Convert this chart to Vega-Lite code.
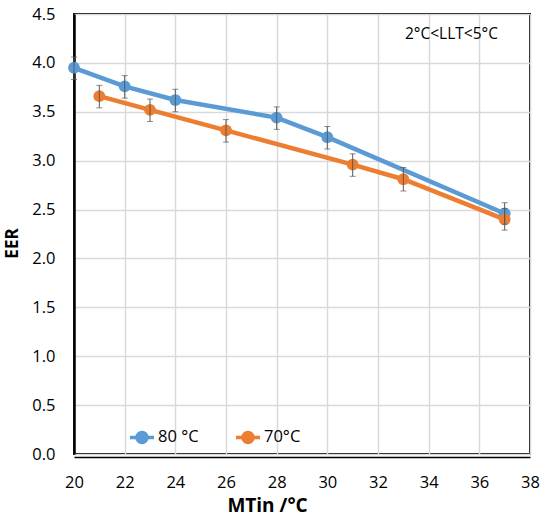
{
  "$schema": "https://vega.github.io/schema/vega-lite/v6.json",
  "autosize": "none",
  "width": 456,
  "height": 440,
  "padding": {"left": 74, "top": 14, "right": 17, "bottom": 67},
  "background": "white",
  "config": {
    "view": {"stroke": "black", "strokeWidth": 2},
    "font": "Open Sans",
    "axis": {"gridColor": "#d9d9d9", "gridWidth": 1.5, "ticks": false, "labelFontSize": 16.5, "labelColor": "black", "labelFont": "Open Sans", "titleFont": "Open Sans", "titleColor": "black"}
  },
  "datasets": {
    "pts": [
      {"series": "80 °C", "x": 20, "y": 3.95, "lo": 3.83, "hi": 4.06},
      {"series": "80 °C", "x": 22, "y": 3.76, "lo": 3.64, "hi": 3.87},
      {"series": "80 °C", "x": 24, "y": 3.62, "lo": 3.50, "hi": 3.73},
      {"series": "80 °C", "x": 28, "y": 3.44, "lo": 3.32, "hi": 3.55},
      {"series": "80 °C", "x": 30, "y": 3.24, "lo": 3.12, "hi": 3.35},
      {"series": "80 °C", "x": 37, "y": 2.46, "lo": 2.35, "hi": 2.57},
      {"series": "70°C", "x": 21, "y": 3.66, "lo": 3.54, "hi": 3.77},
      {"series": "70°C", "x": 23, "y": 3.52, "lo": 3.40, "hi": 3.63},
      {"series": "70°C", "x": 26, "y": 3.31, "lo": 3.19, "hi": 3.42},
      {"series": "70°C", "x": 31, "y": 2.96, "lo": 2.84, "hi": 3.07},
      {"series": "70°C", "x": 33, "y": 2.81, "lo": 2.69, "hi": 2.93},
      {"series": "70°C", "x": 37, "y": 2.40, "lo": 2.29, "hi": 2.51}
    ],
    "note": [{"x": 34.9, "y": 4.3, "label": "2°C<LLT<5°C"}]
  },
  "layer": [
    {
      "data": {"name": "pts"},
      "mark": {"type": "line", "strokeWidth": 4.5, "point": {"filled": true, "size": 140, "opacity": 1}},
      "encoding": {
        "x": {"field": "x", "type": "quantitative", "scale": {"domain": [20, 38], "nice": false, "zero": false},
          "axis": {"values": [20,22,24,26,28,30,32,34,36,38], "labelFlush": false, "title": "MTin /°C", "titleFontSize": 19, "titleFontWeight": "bold", "labelPadding": 17, "titlePadding": 6, "titleX": 193, "titleAlign": "center", "titleAnchor": null, "domainColor": "black", "domainWidth": 1.5, "offset": 3}},
        "y": {"field": "y", "type": "quantitative", "scale": {"domain": [0, 4.5], "nice": false},
          "axis": {"values": [0,0.5,1,1.5,2,2.5,3,3.5,4,4.5], "format": ".1f", "title": "EER", "titleFontSize": 17, "titleFontWeight": "bold", "labelPadding": 19, "titleX": -53, "titleY": 229, "titleAngle": -90, "titleAlign": "center", "titleBaseline": "bottom", "domainColor": "black", "domainWidth": 2.5}},
        "color": {"field": "series", "type": "nominal",
          "scale": {"domain": ["80 °C", "70°C"], "range": ["#5B9BD5", "#ED7D31"]},
          "legend": {"title": null, "orient": "none", "legendX": 54, "legendY": 409, "direction": "horizontal",
            "symbolType": "M-1,0L1,0M-0.42,0A0.42,0.42,0,1,1,0.42,0A0.42,0.42,0,1,1,-0.42,0Z",
            "symbolSize": 576, "symbolStrokeWidth": 3.5, "labelFontSize": 16.5, "labelColor": "black", "labelFont": "Open Sans", "columnPadding": 30, "labelOffset": 2,
            "encode": {"symbols": {"update": {"fill": {"scale": "color", "field": "value"}, "stroke": {"scale": "color", "field": "value"}, "fillOpacity": {"value": 1}}}}}}
      }
    },
    {
      "data": {"name": "pts"},
      "mark": {"type": "rule", "color": "#595959", "strokeWidth": 1},
      "encoding": {
        "x": {"field": "x", "type": "quantitative"},
        "y": {"field": "lo", "type": "quantitative"},
        "y2": {"field": "hi"}
      }
    },
    {
      "data": {"name": "pts"},
      "mark": {"type": "tick", "color": "#595959", "orient": "horizontal", "size": 6, "thickness": 1},
      "encoding": {
        "x": {"field": "x", "type": "quantitative"},
        "y": {"field": "lo", "type": "quantitative"}
      }
    },
    {
      "data": {"name": "pts"},
      "mark": {"type": "tick", "color": "#595959", "orient": "horizontal", "size": 6, "thickness": 1},
      "encoding": {
        "x": {"field": "x", "type": "quantitative"},
        "y": {"field": "hi", "type": "quantitative"}
      }
    },
    {
      "data": {"name": "note"},
      "mark": {"type": "text", "fontSize": 15.5, "font": "Open Sans", "color": "black"},
      "encoding": {
        "x": {"field": "x", "type": "quantitative"},
        "y": {"field": "y", "type": "quantitative"},
        "text": {"field": "label"}
      }
    }
  ]
}
